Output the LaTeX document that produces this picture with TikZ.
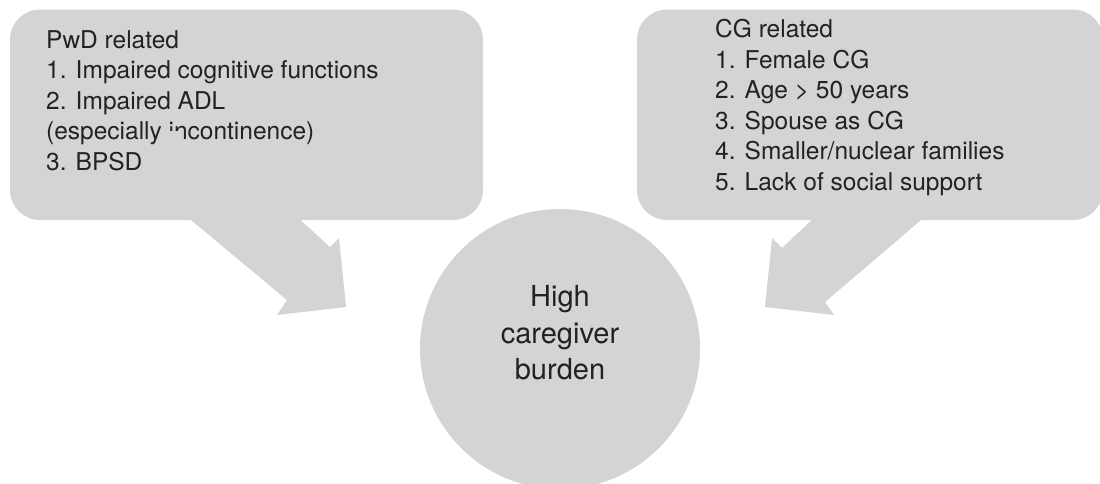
\documentclass[tikz,border=0pt]{standalone}
\usepackage{fontspec}
\setmainfont{TeX Gyre Heros}
\definecolor{shapegray}{RGB}{211,212,214}
\definecolor{inkgray}{RGB}{34,34,34}
\begin{document}
\begin{tikzpicture}[x=1pt,y=-1pt,
  callout/.style={fill=shapegray,rounded corners=30pt,inner sep=0pt,minimum height=210.5pt},
  listtext/.style={anchor=north west,align=left,inner sep=0pt,text=inkgray,font=\fontsize{24.5}{30.5}\selectfont},
  disc/.style={circle,fill=shapegray,inner sep=0pt,minimum size=280pt}]
 \useasboundingbox (0,0) rectangle (1100,483);
 \node[callout,minimum width=473pt] (pwd) at (246.5,114.75) {};
 \node[callout,minimum width=466pt] (cg) at (870,114.75) {};
 \fill[shapegray](185,215)--(287,300)--(277,315)--(346,307)--(339,238)--(330,247)--(295,215)--cycle;
 \fill[shapegray](817,215)--(782,248)--(772,238)--(765,307)--(834,315)--(825,302)--(927,215)--cycle;
 \node[disc] (burden) at (560,349) {};
 \node[listtext] (pwdlist) at (46,30.2) {PwD related\\1. Impaired cognitive functions\\2. Impaired ADL\\(especially incontinence)\\3. BPSD};
 \node[listtext] (cglist) at (715,19) {CG related\\1. Female CG\\2. Age > 50 years\\3. Spouse as CG\\4. Smaller/nuclear families\\5. Lack of social support};
 \node[align=center,inner sep=0pt,text=inkgray,font=\fontsize{29}{36.5}\selectfont] (burdentext) at (560,333) {High\\caregiver\\burden};
 % worn-off part of "in"
 \fill[shapegray](169,130.5) rectangle (181.5,141);
\end{tikzpicture}
\end{document}
